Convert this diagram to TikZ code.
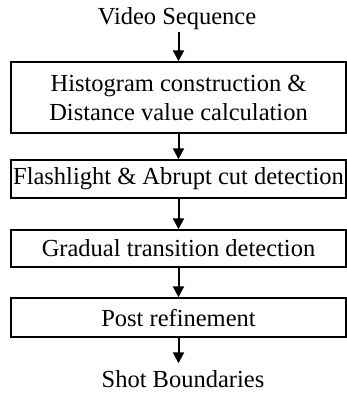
\documentclass[tikz,border=0pt]{standalone}
\usepackage{fontspec}
\setmainfont{Liberation Serif}
\usetikzlibrary{arrows.meta}

\tikzset{
  stage/.style={draw, line width=1.4bp, minimum width=335bp, inner xsep=0pt,
    align=center, font=\fontsize{24.5bp}{29bp}\selectfont},
  lbl/.style={inner xsep=0pt, inner ysep=2.5bp, font=\fontsize{24.5bp}{29bp}\selectfont},
  flow/.style={line width=2bp, -{Triangle[width=11bp,length=11bp]}}
}

\begin{document}
\begin{tikzpicture}[x=1bp, y=-1bp]
\useasboundingbox (0,0) rectangle (347,394);

% ---- input, the four stages, output ----
\node[lbl, anchor=base] (video) at (177,24) {Video Sequence};
\node[stage, minimum height=71bp] (hist) at (178.5,97.5)
  {Histogram construction \&\\Distance value calculation};
\node[stage, minimum height=38bp] (cut) at (178.5,179)
  {Flashlight \& Abrupt cut detection};
\node[stage, minimum height=37bp] (grad) at (178.5,248.5)
  {Gradual transition detection};
\node[stage, minimum height=39bp] (post) at (178.5,317.5)
  {Post refinement};
\node[lbl, anchor=base] (shots) at (183,387) {Shot Boundaries};

% ---- arrows between them ----
\draw[flow] (video.south -| hist.north) -- (hist.north);
\draw[flow] (hist) -- (cut);
\draw[flow] (cut) -- (grad);
\draw[flow] (grad) -- (post);
\draw[flow, shorten >=4bp] (post.south) -- (post.south |- shots.north);

\end{tikzpicture}
\end{document}
